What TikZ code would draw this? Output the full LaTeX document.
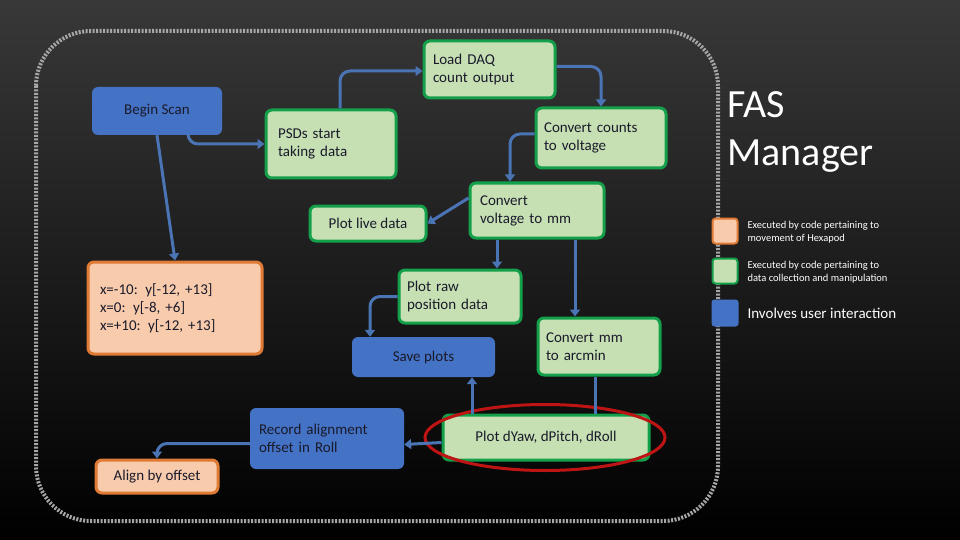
\documentclass[tikz,border=0pt]{standalone}
\usepackage{fontspec}
\setmainfont{Carlito}
\usetikzlibrary{arrows.meta,shapes.geometric}
\definecolor{gf}{HTML}{C6E0B4}\definecolor{gb}{HTML}{14A04A}
\definecolor{of}{HTML}{F8CBAD}\definecolor{ob}{HTML}{E07B35}
\definecolor{bf}{HTML}{4472C4}\definecolor{ln}{HTML}{4A74B4}
\definecolor{tx}{HTML}{1A1A2A}
\tikzset{
 box/.style={rounded corners=6pt,font=\fontsize{15}{18}\selectfont,text=tx,align=left,inner sep=0pt},
 gbox/.style={box,fill=gf,draw=gb,line width=3pt},
 obox/.style={box,fill=of,draw=ob,line width=3pt},
 bbox/.style={box,fill=bf,draw=none},
 con/.style={draw=ln,line width=3pt,rounded corners=10pt},
 arr/.style={con,-{Triangle[length=7pt,width=10pt]}},
 leg/.style={text=white,font=\fontsize{10.5}{13}\selectfont,align=left,anchor=west}
}
\begin{document}
\begin{tikzpicture}[x=1pt,y=-1pt]
\shade[top color=black!78,bottom color=black] (0,0) rectangle (960,540);
\useasboundingbox (0,0) rectangle (960,540);
\draw[gray!70,line width=4pt,dash pattern=on 2pt off 1.5pt,rounded corners=55pt] (36,31) rectangle (718,521);
% nodes
\node[bbox,minimum width=130pt,minimum height=48pt,align=center] (bs) at (157,111) {Begin Scan};
\node[gbox,minimum width=131pt,minimum height=57pt,text width=113pt] (daq) at (489.5,69.5) {Load DAQ\\count output};
\node[gbox,minimum width=130pt,minimum height=68pt,text width=106pt] (psd) at (331,144) {PSDs start\\taking data};
\node[gbox,minimum width=130pt,minimum height=60pt,text width=114pt] (cc) at (601,138) {Convert counts\\to voltage};
\node[gbox,minimum width=134pt,minimum height=55pt,text width=114pt] (cv) at (537,210.5) {Convert\\voltage to mm};
\node[gbox,minimum width=116pt,minimum height=35pt,align=center] (pl) at (368,223.5) {Plot live data};
\node[obox,minimum width=174pt,minimum height=92pt,text width=150pt] (xs) at (175,308) {x=-10: y[-12, +13]\\x=0: y[-8, +6]\\x=+10: y[-12, +13]};
\node[gbox,minimum width=122pt,minimum height=53pt,text width=106pt] (pr) at (460,296.5) {Plot raw\\position data};
\node[gbox,minimum width=122pt,minimum height=57pt,text width=106pt] (cm) at (599,346.5) {Convert mm\\to arcmin};
\node[bbox,minimum width=143pt,minimum height=40pt,align=center] (sp) at (423.5,357) {Save plots};
\node[bbox,minimum width=154pt,minimum height=61pt,text width=136pt] (ra) at (327,438.5) {Record alignment\\offset in Roll};
\node[gbox,minimum width=206pt,minimum height=45pt,align=center] (pd) at (546,437.5) {Plot dYaw, dPitch, dRoll};
\node[obox,minimum width=122pt,minimum height=33pt,align=center] (al) at (157,476.5) {Align by offset};
\node[draw={rgb,255:red,190;green,20;blue,20},line width=3pt,ellipse,minimum width=240pt,minimum height=66pt] (el) at (545,437.5) {};
% connectors
\draw[arr] (bs.south) -- (xs.north);
\draw[arr] ([xshift=31pt]bs.south) |- (psd.west);
\draw[arr] ([xshift=9pt]psd.north) |- ([yshift=-1.5pt]daq.west);
\draw[arr] ([yshift=3pt]daq.east) -| (cc.north);
\draw[arr] ([yshift=4pt]cc.west) -| ([xshift=-27pt]cv.north);
\draw[arr] ([yshift=12.5pt]cv.west) -- (pl.east);
\draw[arr] ([xshift=-40pt]cv.south) -- ([xshift=37pt]pr.north);
\draw[arr] ([xshift=38pt]cv.south) -- ([xshift=-24pt]cm.north);
\draw[arr] (pr.west) -| ([xshift=-53.5pt]sp.north);
\draw[con] ([xshift=-4pt]cm.south) -- ([xshift=49pt]pd.north);
\draw[arr] ([xshift=-74pt]pd.north) -- ([xshift=48.5pt]sp.south);
\draw[arr] ([yshift=-5pt]pd.west) -- ([yshift=-6pt]ra.east);
\draw[arr] ([yshift=-5pt]ra.west) -| (al.north);
% title and legend
\node[text=white,font=\fontsize{40}{48}\selectfont,align=left,anchor=west] (t) at (724,132) {FAS\\Manager};
\node[fill=of,draw=ob,line width=2pt,rounded corners=3pt,minimum size=25pt] (l1) at (725,231) {};
\node[fill=gf,draw=gb,line width=2pt,rounded corners=3pt,minimum size=25pt] (l2) at (725,271) {};
\node[fill=bf,rounded corners=3pt,minimum size=27pt] (l3) at (725,313) {};
\node[leg] at (744,232) {Executed by code pertaining to\\movement of Hexapod};
\node[leg] at (744,272) {Executed by code pertaining to\\data collection and manipulation};
\node[leg,font=\fontsize{15}{18}\selectfont] at (744,313) {Involves user interaction};
\end{tikzpicture}
\end{document}
